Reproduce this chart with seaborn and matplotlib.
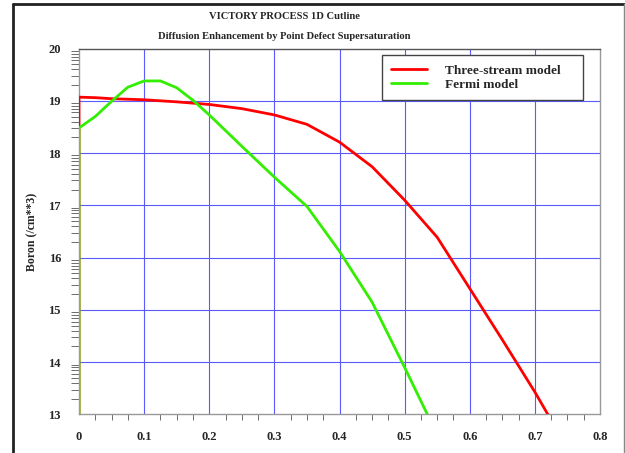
import matplotlib.pyplot as plt
import numpy as np
import pandas as pd
import seaborn as sns
from matplotlib.lines import Line2D
from matplotlib.ticker import FixedLocator, MultipleLocator

# Depth (um) and log10 boron concentration
depth_3s = [0.0, 0.0, 0.025, 0.05, 0.1, 0.15, 0.2, 0.25, 0.3, 0.35, 0.4,
            0.45, 0.5, 0.55, 0.6, 0.65, 0.7, 0.72]
boron_3s = [13.0, 19.07, 19.06, 19.04, 19.02, 18.98, 18.93, 18.85, 18.73,
            18.55, 18.21, 17.74, 17.10, 16.39, 15.41, 14.43, 13.43, 13.0]

depth_fermi = [0.0, 0.0, 0.025, 0.05, 0.075, 0.1, 0.125, 0.15, 0.175, 0.2,
               0.25, 0.3, 0.35, 0.4, 0.45, 0.5, 0.535]
boron_fermi = [13.0, 18.48, 18.70, 18.99, 19.26, 19.38, 19.38, 19.25, 19.01,
               18.73, 18.13, 17.54, 16.98, 16.12, 15.15, 13.90, 13.0]

models = ["Three-stream model", "Fermi model"]
colors = ["#ff0000", "#33ee00"]
x_ticks = [0, 0.1, 0.2, 0.3, 0.4, 0.5, 0.6, 0.7, 0.8]
x_labels = ["0", "0.1", "0.2", "0.3", "0.4", "0.5", "0.6", "0.7", "0.8"]
y_ticks = [13, 14, 15, 16, 17, 18, 19, 20]

df = pd.concat([
    pd.DataFrame({"depth": depth_3s, "boron": boron_3s, "model": models[0]}),
    pd.DataFrame({"depth": depth_fermi, "boron": boron_fermi, "model": models[1]}),
])

sns.set_style("white")
plt.rcParams["font.family"] = ["Liberation Serif", "DejaVu Serif"]
plt.rcParams["font.weight"] = "bold"

fig = plt.figure(figsize=(6.25, 4.53), dpi=100)
ax = fig.add_axes([0.1264, 0.085, 0.8336, 0.8079])

grid_col = "#5a5aff"
for xv in x_ticks[1:-1]:
    ax.axvline(xv, color=grid_col, lw=0.8, zorder=1)
for yv in y_ticks[1:-1]:
    ax.axhline(yv, color=grid_col, lw=0.8, zorder=1)

sns.lineplot(data=df, x="depth", y="boron", hue="model", palette=colors,
             sort=False, estimator=None, lw=2.0, ax=ax, legend=False, zorder=3)

ax.set_xlim(0, 0.8)
ax.set_ylim(13, 20)
ax.set_xticks(x_ticks)
ax.set_xticklabels(x_labels)
ax.xaxis.set_minor_locator(MultipleLocator(0.025))
ax.set_yticks(y_ticks)
# log-decade minor ticks on the concentration axis
minor_y = [d + np.log10(k) for d in y_ticks[:-1] for k in range(2, 10)]
ax.yaxis.set_minor_locator(FixedLocator(minor_y))

ax.tick_params(axis="both", which="major", direction="out", color="#222222",
               labelsize=9, width=1)
ax.tick_params(axis="x", which="major", length=6, pad=6)
ax.tick_params(axis="y", which="major", length=10, pad=3)
ax.tick_params(axis="x", which="minor", direction="out", length=4,
               color="#555555", bottom=True)
ax.tick_params(axis="y", which="minor", direction="out", length=6,
               color="#555555", left=True)

for side in ["left", "bottom", "right"]:
    ax.spines[side].set_color("#999999")
    ax.spines[side].set_linewidth(1)
ax.spines["top"].set_color("#555555")
ax.spines["top"].set_linewidth(1)

ax.set_xlabel("")
ax.set_ylabel("Boron (/cm**3)", fontsize=8.5, fontweight="bold", labelpad=7)

fig.text(0.455, 0.963, "VICTORY PROCESS 1D Cutline", ha="center", va="center",
         fontsize=7.6, fontweight="bold")
fig.text(0.455, 0.919, "Diffusion Enhancement by Point Defect Supersaturation",
         ha="center", va="center", fontsize=7.6, fontweight="bold")

handles = [Line2D([], [], color=c, lw=2) for c in colors]
leg = ax.legend(handles, models, loc="upper left",
                bbox_to_anchor=(0.5816, 0.982, 0.3858, 0), mode="expand",
                borderaxespad=0, fancybox=False, framealpha=1,
                edgecolor="#444444", prop={"size": 9.5, "weight": "bold"},
                handlelength=2.7, handletextpad=1.35, labelspacing=0.15,
                borderpad=0.7)
leg.get_frame().set_linewidth(1)
leg.set_zorder(5)

# outer window frame
fig.add_artist(Line2D([0.021, 0.021], [0, 0.991], color="#222222", lw=2,
                      transform=fig.transFigure))
fig.add_artist(Line2D([0.021, 0.999], [0.991, 0.991], color="#222222", lw=2,
                      transform=fig.transFigure))
fig.add_artist(Line2D([0.998, 0.998], [0, 0.991], color="#888888", lw=1,
                      transform=fig.transFigure))

fig.savefig("out.png", dpi=100)
